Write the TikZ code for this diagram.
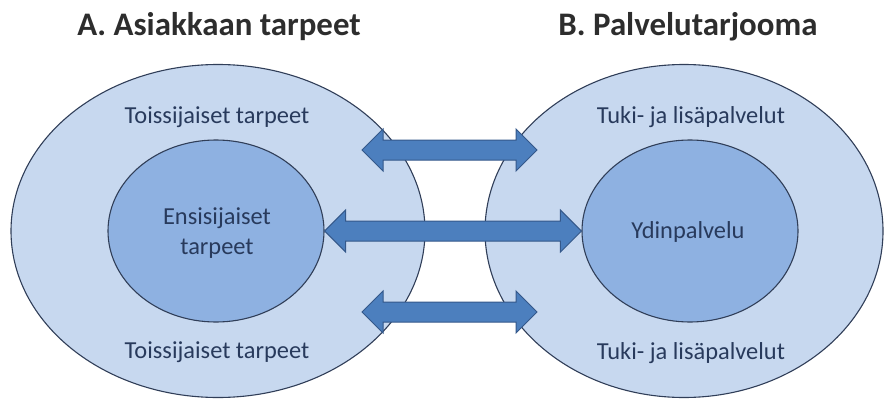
\documentclass[tikz,border=0pt]{standalone}
\usepackage{fontspec}
\setmainfont{Carlito}
\usepackage{tikz}
\usetikzlibrary{shapes.geometric,calc}

\definecolor{outerblue}{RGB}{199,216,239}
\definecolor{innerblue}{RGB}{142,177,225}
\definecolor{arrowblue}{RGB}{76,127,190}
\definecolor{arrowline}{RGB}{52,88,138}
\definecolor{rimline}{RGB}{48,62,88}
\definecolor{labeltext}{RGB}{40,58,92}
\definecolor{titletext}{RGB}{45,45,45}

\tikzset{
  outer/.style={draw=rimline,line width=1.1bp,ellipse,fill=outerblue},
  inner/.style={draw=rimline,line width=1.1bp,ellipse,fill=innerblue},
  title/.style={font=\bfseries\fontsize{33}{38}\selectfont,text=titletext},
  needs/.style={font=\fontsize{24.5}{30}\selectfont,text=labeltext,align=center},
  blockarrow/.style={draw=arrowline,line width=1bp,fill=arrowblue,line join=miter,
    to path={let \p1=(\tikztostart), \p2=(\tikztotarget) in
      (\x1,\y1) -- (\x1+21bp,\y1+21bp) -- (\x1+21bp,\y1+10bp) -- (\x2-21bp,\y2+10bp)
      -- (\x2-21bp,\y2+21bp) -- (\x2,\y2) -- (\x2-21bp,\y2-21bp) -- (\x2-21bp,\y2-10bp)
      -- (\x1+21bp,\y1-10bp) -- (\x1+21bp,\y1-21bp) -- cycle}}
}

\begin{document}
\begin{tikzpicture}

\useasboundingbox (0bp,0bp) rectangle (886bp,-399bp);

\node (TitleA) at (219bp,-27bp)[title] {A. Asiakkaan tarpeet};
\node (TitleB) at (688bp,-27bp)[title] {B. Palvelutarjooma};

\node (AOuter) at (218bp,-231bp)[outer,minimum width=414bp,minimum height=333bp] {};
\node (BOuter) at (684bp,-231bp)[outer,minimum width=398bp,minimum height=333bp] {};
\node (AInner) at (216bp,-231bp)[inner,minimum width=216bp,minimum height=182bp] {};
\node (BInner) at (690bp,-231bp)[inner,minimum width=216bp,minimum height=182bp] {};

\node (ATop) at (217bp,-117bp)[needs] {Toissijaiset tarpeet};
\node (ABottom) at (217bp,-352bp)[needs] {Toissijaiset tarpeet};
\node (ACore) at (217bp,-233bp)[needs] {Ensisijaiset\\tarpeet};
\node (BTop) at (691bp,-117bp)[needs] {Tuki- ja lisäpalvelut};
\node (BBottom) at (691bp,-353bp)[needs] {Tuki- ja lisäpalvelut};
\node (BCore) at (688bp,-232bp)[needs] {Ydinpalvelu};

\coordinate (ATopEnd) at (362bp,-150bp);
\coordinate (BTopEnd) at (537bp,-150bp);
\coordinate (ABottomEnd) at (362bp,-312bp);
\coordinate (BBottomEnd) at (537bp,-312bp);

\draw [blockarrow] (ATopEnd) to (BTopEnd);
\draw [blockarrow] (AInner.east) to (BInner.west);
\draw [blockarrow] (ABottomEnd) to (BBottomEnd);
\end{tikzpicture}
\end{document}
